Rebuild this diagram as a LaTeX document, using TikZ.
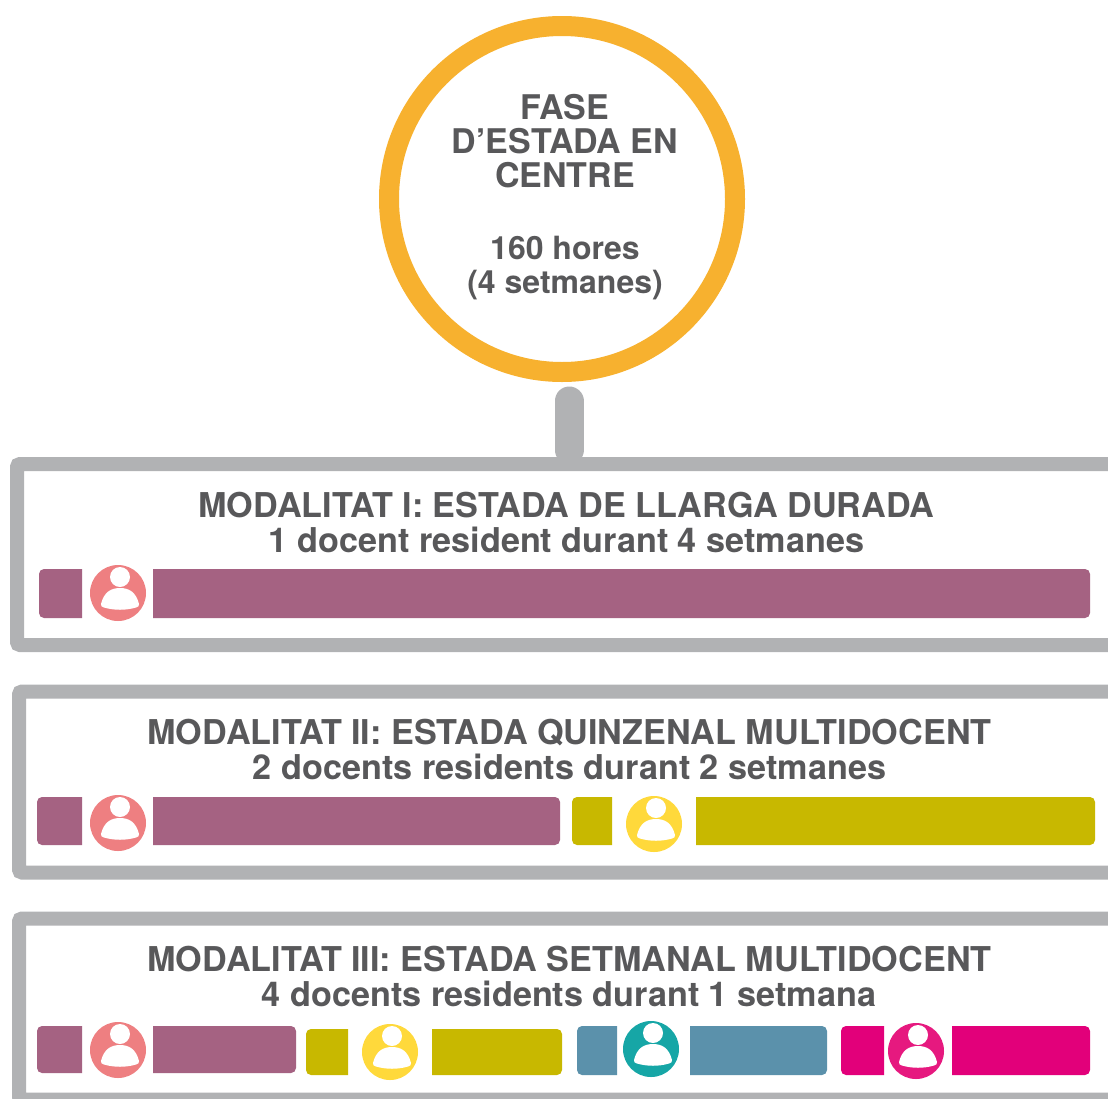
\documentclass[tikz,border=0pt]{standalone}
\usepackage{fontspec}
\setmainfont{TeX Gyre Heros}
\definecolor{txt}{HTML}{58585A}
\definecolor{frame}{HTML}{B1B2B4}
\definecolor{ring}{HTML}{F7B12F}
\definecolor{barA}{HTML}{A56282}
\definecolor{perA}{HTML}{EE7F81}
\definecolor{barB}{HTML}{C8B800}
\definecolor{perB}{HTML}{FFD93B}
\definecolor{barC}{HTML}{5B91AB}
\definecolor{perC}{HTML}{16A6A6}
\definecolor{barD}{HTML}{E2007A}
\definecolor{perD}{HTML}{E6197F}
\newcommand{\barL}[5]{\fill[#1] (#3,#4) [rounded corners=5pt] -- (#2,#4) -- (#2,#5) [sharp corners] -- (#3,#5) -- cycle;}
\newcommand{\barR}[5]{\fill[#1] (#2,#4) [rounded corners=5pt] -- (#3,#4) -- (#3,#5) [sharp corners] -- (#2,#5) -- cycle;}
\tikzset{
  x=1pt,y=-1pt,
  modbox/.style={draw=frame,fill=white,line width=14pt,rounded corners=3pt,inner sep=0pt,minimum width=1113pt,minimum height=181pt},
  bigtxt/.style={anchor=base,font=\fontsize{34}{34}\selectfont\bfseries,text=txt,inner sep=0pt},
  midtxt/.style={anchor=base,font=\fontsize{32}{32}\selectfont\bfseries,text=txt,inner sep=0pt},
  title/.style={anchor=base,font=\fontsize{34.2}{34.2}\selectfont\bfseries,text=txt,inner sep=0pt},
  subt/.style={anchor=base,font=\fontsize{34.2}{34.2}\selectfont\bfseries,text=txt,inner sep=0pt},
  pics/docent/.style={code={
    \fill[#1] (0,0) circle[radius=28];
    \fill[white] (2,-16) circle[radius=10];
    \fill[white] (-17,11) .. controls (-14,-1) and (-7,-5) .. (2,-5) .. controls (11,-5) and (18,-1) .. (21,11) .. controls (21.5,13) and (20,14) .. (18,14.5) .. controls (8,17.5) and (-4,17.5) .. (-14,14.5) .. controls (-16,14) and (-17.5,13) .. (-17,11) -- cycle;
  }}
}
\begin{document}
\begin{tikzpicture}
\useasboundingbox (0,0) rectangle (1108,1098);
\clip (0,0) rectangle (1108,1098);
\node[circle,draw=ring,line width=20pt,fill=white,inner sep=0pt,minimum size=346pt] (fase) at (562,199) {};
\node[bigtxt] (f1) at (565,119) {FASE};
\node[bigtxt] (f2) at (565,153) {D’ESTADA EN};
\node[bigtxt] (f3) at (565,187) {CENTRE};
\node[midtxt] (f4) at (565,259) {160 hores};
\node[midtxt] (f5) at (565,293) {(4 setmanes)};
\coordinate (ctop) at (569,401);
\node[modbox] (m1) at (573.5,554.5) {};
\draw[frame,line width=29pt,line cap=round,shorten >=7pt] (ctop) -- (ctop |- m1.north);
\node[modbox] (m2) at (575.5,782) {};
\node[modbox] (m3) at (575.5,1009) {};
\node[title] (t1) at (566.5,517.5) {MODALITAT I: ESTADA DE LLARGA DURADA};
\node[subt] (s1) at (566.5,552) {1 docent resident durant 4 setmanes};
\node[title] (t2) at (569.5,744.5) {MODALITAT II: ESTADA QUINZENAL MULTIDOCENT};
\node[subt] (s2) at (569.5,779) {2 docents residents durant 2 setmanes};
\node[title] (t3) at (569.5,971.5) {MODALITAT III: ESTADA SETMANAL MULTIDOCENT};
\node[subt] (s3) at (569,1006) {4 docents residents durant 1 setmana};
% modalitat I
\barL{barA}{39}{82}{569}{618}
\pic at (118,593) {docent=perA};
\barR{barA}{153}{1090}{569}{618}
% modalitat II
\barL{barA}{37}{82}{797}{845}
\pic at (118,823) {docent=perA};
\barR{barA}{153}{560}{797}{845}
\barL{barB}{572}{612}{797}{845}
\pic at (654,824) {docent=perB};
\barR{barB}{696}{1095}{797}{845}
% modalitat III
\barL{barA}{37}{82}{1026}{1073}
\pic at (118,1050) {docent=perA};
\barR{barA}{153}{296}{1026}{1073}
\barL{barB}{306}{348}{1029}{1075}
\pic at (390,1052) {docent=perB};
\barR{barB}{432}{562}{1029}{1075}
\barL{barC}{577}{617}{1026}{1075}
\pic at (651,1049) {docent=perC};
\barR{barC}{690}{827}{1026}{1075}
\barL{barD}{841}{884}{1026}{1075}
\pic at (916,1051) {docent=perD};
\barR{barD}{952}{1090}{1026}{1075}
\end{tikzpicture}
\end{document}
